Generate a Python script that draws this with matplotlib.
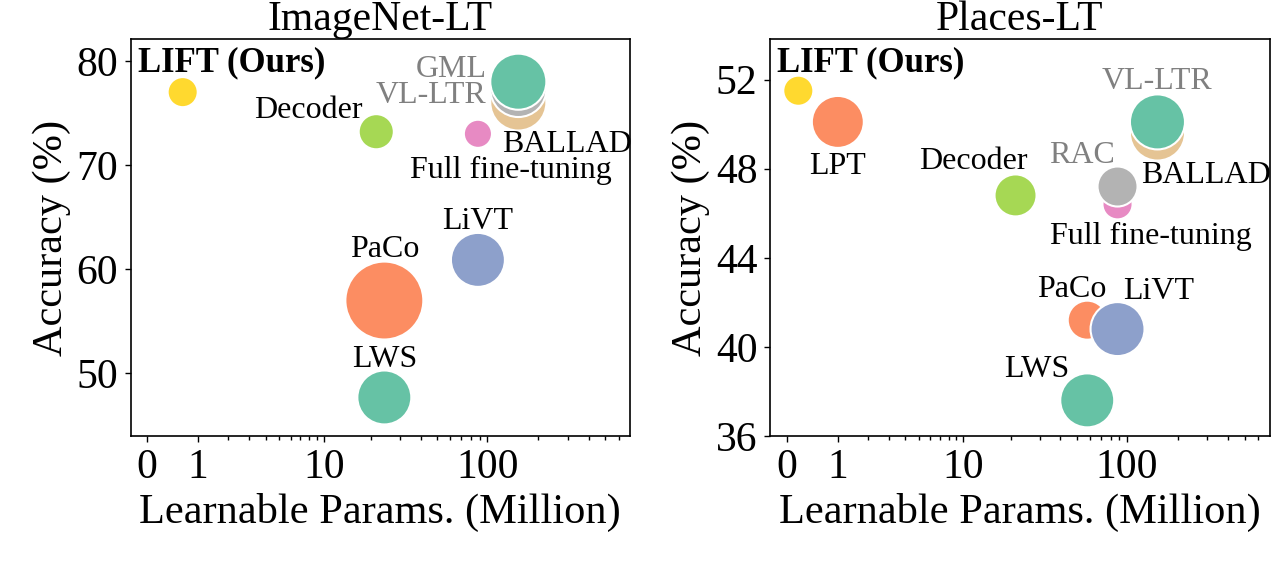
import numpy as np
import matplotlib
matplotlib.use("Agg")
import matplotlib.pyplot as plt

plt.rcParams['font.family'] = ['Liberation Serif', 'DejaVu Serif']

# ImageNet-LT (drawn in this order, later ones on top)
in_names = ["BALLAD", "VL-LTR", "GML", "Full fine-tuning", "Decoder",
            "LIFT (Ours)", "PaCo", "LiVT", "LWS"]
in_params = [153, 153, 153, 88, 21.4, 0.62, 24, 88, 24]
in_acc = [76.0, 77.3, 78.0, 73.0, 73.2, 77.0, 57.0, 60.9, 47.7]
in_size = [1630, 1630, 1630, 410, 640, 470, 3150, 1510, 1510]

# Places-LT
pl_names = ["BALLAD", "VL-LTR", "Full fine-tuning", "RAC", "Decoder",
            "LIFT (Ours)", "LPT", "PaCo", "LiVT", "LWS"]
pl_params = [152, 152, 88, 88, 21.3, 0.17, 1.0, 58, 88, 58]
pl_acc = [49.6, 50.1, 46.4, 47.2, 46.8, 51.5, 50.1, 41.2, 40.8, 37.6]
pl_size = [1570, 1570, 470, 830, 915, 470, 1400, 790, 1510, 1510]

teal, orange, blue, pink = "#66c2a5", "#fc8d62", "#8da0cb", "#e78ac3"
lime, yellow, tan, grey = "#a6d854", "#ffd92f", "#e5c494", "#b3b3b3"

in_colors = [tan, grey, teal, pink, lime, yellow, orange, blue, teal]
pl_colors = [tan, teal, pink, grey, lime, yellow, orange, orange, blue, teal]

# label placement: offset (points), alignment, grey text?
in_labels = {
    "BALLAD": (-12, -35.5, "left", False),
    "VL-LTR": (-22.8, -10, "right", True),
    "GML": (-22.8, 3.6, "right", True),
    "Full fine-tuning": (24, -32, "center", False),
    "Decoder": (-10, 9.6, "right", False),
    "LIFT (Ours)": (-32, 14.8, "left", False),
    "PaCo": (0, 31.7, "center", False),
    "LiVT": (0, 22.1, "center", False),
    "LWS": (0, 22, "center", False),
}
pl_labels = {
    "BALLAD": (-12, -36, "left", False),
    "VL-LTR": (0, 23.5, "center", True),
    "Full fine-tuning": (24.2, -28.4, "center", False),
    "RAC": (-2, 16.8, "right", True),
    "Decoder": (-30.5, 19, "center", False),
    "LIFT (Ours)": (-15.6, 13.7, "left", False),
    "LPT": (0, -37.2, "center", False),
    "PaCo": (-11.3, 16.8, "center", False),
    "LiVT": (29.4, 21.4, "center", False),
    "LWS": (-36.7, 17, "center", False),
}


def fwd(x):
    return np.log10(np.clip(x, -0.99, None) + 1)


def inv(y):
    return 10 ** y - 1


def panel(ax, title, names, params, acc, sizes, colors, labels, ylim, yticks):
    ax.scatter(params, acc, s=sizes, c=colors, edgecolors="white",
               linewidths=1.5, zorder=3)
    for n, x, y in zip(names, params, acc):
        dx, dy, ha, faded = labels[n]
        bold = n.startswith("LIFT")
        ax.annotate(n, (x, y), xytext=(dx, dy), textcoords="offset points",
                    ha=ha, va="baseline", fontsize=25 if bold else 23,
                    fontweight="bold" if bold else "normal",
                    color="#808080" if faded else "black", zorder=4)
    ax.set_xscale("function", functions=(fwd, inv))
    ax.set_xlim(-0.2, 700)
    ax.set_xticks([0, 1, 10, 100])
    ax.set_xticklabels(["0", "1", "10", "100"])
    ax.set_xticks(list(range(2, 10)) + list(range(20, 100, 10))
                  + list(range(200, 700, 100)), minor=True)
    ax.set_ylim(*ylim)
    ax.set_yticks(yticks)
    ax.tick_params(axis="both", which="major", labelsize=30, length=4.2,
                   width=1.0, pad=5)
    ax.tick_params(axis="x", which="minor", length=3, width=1.0)
    for s in ax.spines.values():
        s.set_linewidth(1.2)
    ax.set_title(title, fontsize=30, pad=6.7)
    ax.set_xlabel("Learnable Params. (Million)", fontsize=30.5)
    ax.set_ylabel("Accuracy (%)", fontsize=30.5)


fig = plt.figure(figsize=(12.8, 5.61), dpi=100)
ax1 = fig.add_axes([0.1021, 0.2228, 0.3901, 0.7068])
ax2 = fig.add_axes([0.6018, 0.2228, 0.3901, 0.7068])

panel(ax1, "ImageNet-LT", in_names, in_params, in_acc, in_size, in_colors,
      in_labels, (44, 82.05), [50, 60, 70, 80])
panel(ax2, "Places-LT", pl_names, pl_params, pl_acc, pl_size, pl_colors,
      pl_labels, (36, 53.8), [36, 40, 44, 48, 52])

fig.savefig("out.png", dpi=100)
